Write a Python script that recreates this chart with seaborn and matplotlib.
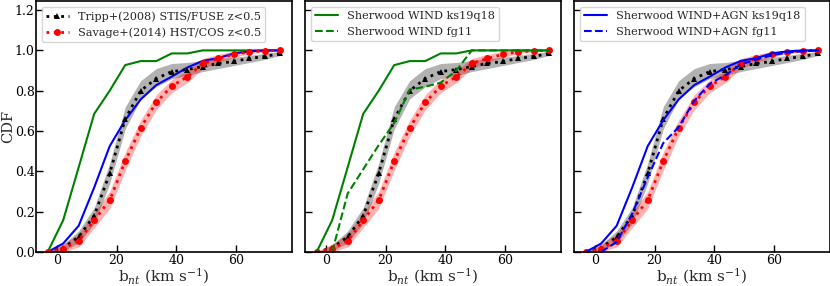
#!/usr/bin/env python3

import numpy as np
import pandas as pd
import seaborn as sns
import matplotlib
matplotlib.use("Agg")
import matplotlib.pyplot as plt

# b_nt bin centres (km/s)
b_nt = [-3.1, 2.1, 7.3, 12.5, 17.7, 22.9, 28.1, 33.3, 38.5, 43.7, 48.9, 54.1, 59.3, 64.5, 69.7, 74.9]

# Tripp+(2008) STIS/FUSE with band
tripp = [0.0, 0.02, 0.075, 0.18, 0.39, 0.66, 0.80, 0.86, 0.895, 0.905, 0.92, 0.935, 0.945, 0.96, 0.97, 0.985]
tripp_lo = [0.0, 0.005, 0.045, 0.14, 0.34, 0.61, 0.76, 0.82, 0.86, 0.875, 0.895, 0.91, 0.925, 0.94, 0.955, 0.975]
tripp_hi = [0.0, 0.035, 0.105, 0.22, 0.44, 0.72, 0.85, 0.91, 0.935, 0.94, 0.95, 0.96, 0.965, 0.975, 0.985, 0.995]

# Savage+(2014) HST/COS with band
savage = [0.0, 0.017, 0.055, 0.157, 0.257, 0.45, 0.616, 0.742, 0.823, 0.869, 0.935, 0.96, 0.98, 0.993, 0.998, 1.0]
savage_lo = [0.0, 0.0, 0.025, 0.12, 0.215, 0.405, 0.575, 0.705, 0.79, 0.84, 0.91, 0.94, 0.965, 0.985, 0.992, 0.997]
savage_hi = [0.0, 0.04, 0.09, 0.195, 0.3, 0.495, 0.655, 0.78, 0.855, 0.9, 0.96, 0.98, 0.995, 1.0, 1.0, 1.0]

# Sherwood simulations
wind_ks19 = [0.0, 0.157, 0.42, 0.685, 0.80, 0.927, 0.947, 0.947, 0.985, 0.985, 1.0, 1.0, 1.0, 1.0, 1.0, 1.0]
wind_fg11 = [np.nan, 0.0, 0.29, 0.41, 0.53, 0.64, 0.805, 0.82, 0.84, 0.90, 1.0, 1.0, 1.0, 1.0, 1.0, 1.0]
agn_ks19 = [0.0, 0.042, 0.13, 0.32, 0.525, 0.654, 0.757, 0.828, 0.87, 0.915, 0.948, 0.962, 0.985, 0.995, 1.0, 1.0]
agn_fg11 = [np.nan, 0.0, 0.05, 0.19, 0.37, 0.54, 0.62, 0.75, 0.835, 0.877, 0.93, 0.955, 0.975, 0.99, 0.995, 1.0]

label_tripp = "Tripp+(2008) STIS/FUSE z<0.5"
label_savage = "Savage+(2014) HST/COS z<0.5"


def add_line(ax, y, **kw):
    df = pd.DataFrame({"b": b_nt, "cdf": y}).dropna()
    sns.lineplot(data=df, x="b", y="cdf", ax=ax, **kw)
    return ax.lines[-1]


def add_obs(ax):
    ax.fill_between(b_nt, tripp_lo, tripp_hi, color="gray", alpha=0.6, lw=0)
    ax.fill_between(b_nt, savage_lo, savage_hi, color="red", alpha=0.3, lw=0)
    h1 = add_line(ax, tripp, color="black", linestyle=":", lw=2, marker="^",
                  markersize=5, markeredgewidth=0)
    h2 = add_line(ax, savage, color="red", linestyle=":", lw=2, marker="o",
                  markersize=5, markeredgewidth=0)
    return h1, h2


def main():
    sns.set_style("ticks")
    plt.rcParams["font.family"] = ["DejaVu Serif"]
    plt.rcParams["mathtext.fontset"] = "dejavuserif"

    fig = plt.figure(figsize=(8.3, 2.86), dpi=100)
    lefts = [36, 305, 574]
    axes = []
    for i, l in enumerate(lefts):
        ax = fig.add_axes([l / 830, 34 / 286, 256 / 830, 251 / 286])
        axes.append(ax)

    # panel 1
    ax = axes[0]
    add_line(ax, wind_ks19, color="green", lw=1.5)
    add_line(ax, agn_ks19, color="blue", lw=1.5)
    h1, h2 = add_obs(ax)
    ax.legend([h1, h2], [label_tripp, label_savage], loc="upper left", fontsize=8.1)

    # panel 2
    ax = axes[1]
    h1, h2 = add_obs(ax)
    g1 = add_line(ax, wind_ks19, color="green", lw=1.5)
    g2 = add_line(ax, wind_fg11, color="green", lw=1.5, linestyle="--")
    ax.legend([g1, g2], ["Sherwood WIND ks19q18", "Sherwood WIND fg11"],
              loc="upper left", fontsize=8.1)

    # panel 3
    ax = axes[2]
    h1, h2 = add_obs(ax)
    b1 = add_line(ax, agn_ks19, color="blue", lw=1.5)
    b2 = add_line(ax, agn_fg11, color="blue", lw=1.5, linestyle="--")
    ax.legend([b1, b2], ["Sherwood WIND+AGN ks19q18", "Sherwood WIND+AGN fg11"],
              loc="upper left", fontsize=8.1)

    for i, ax in enumerate(axes):
        ax.set_ylim(0, 1.245)
        ax.set_xticks([0, 20, 40, 60])
        ax.set_yticks([0.0, 0.2, 0.4, 0.6, 0.8, 1.0, 1.2])
        ax.tick_params(direction="in", length=5, width=1, labelsize=9,
                       colors="black", pad=1.5)
        ax.tick_params(axis="y", pad=1)
        for s in ax.spines.values():
            s.set_linewidth(1.2)
            s.set_color("black")
        ax.set_xlabel(r"b$_{nt}$ (km s$^{-1}$)", fontsize=11, labelpad=-0.5)
        if i == 0:
            ax.set_ylabel("CDF", fontsize=10.5, labelpad=0)
        else:
            ax.set_ylabel("")
            ax.set_yticklabels([])

    fig.savefig("out.png", dpi=100)
    plt.close(fig)


if __name__ == "__main__":
    main()
